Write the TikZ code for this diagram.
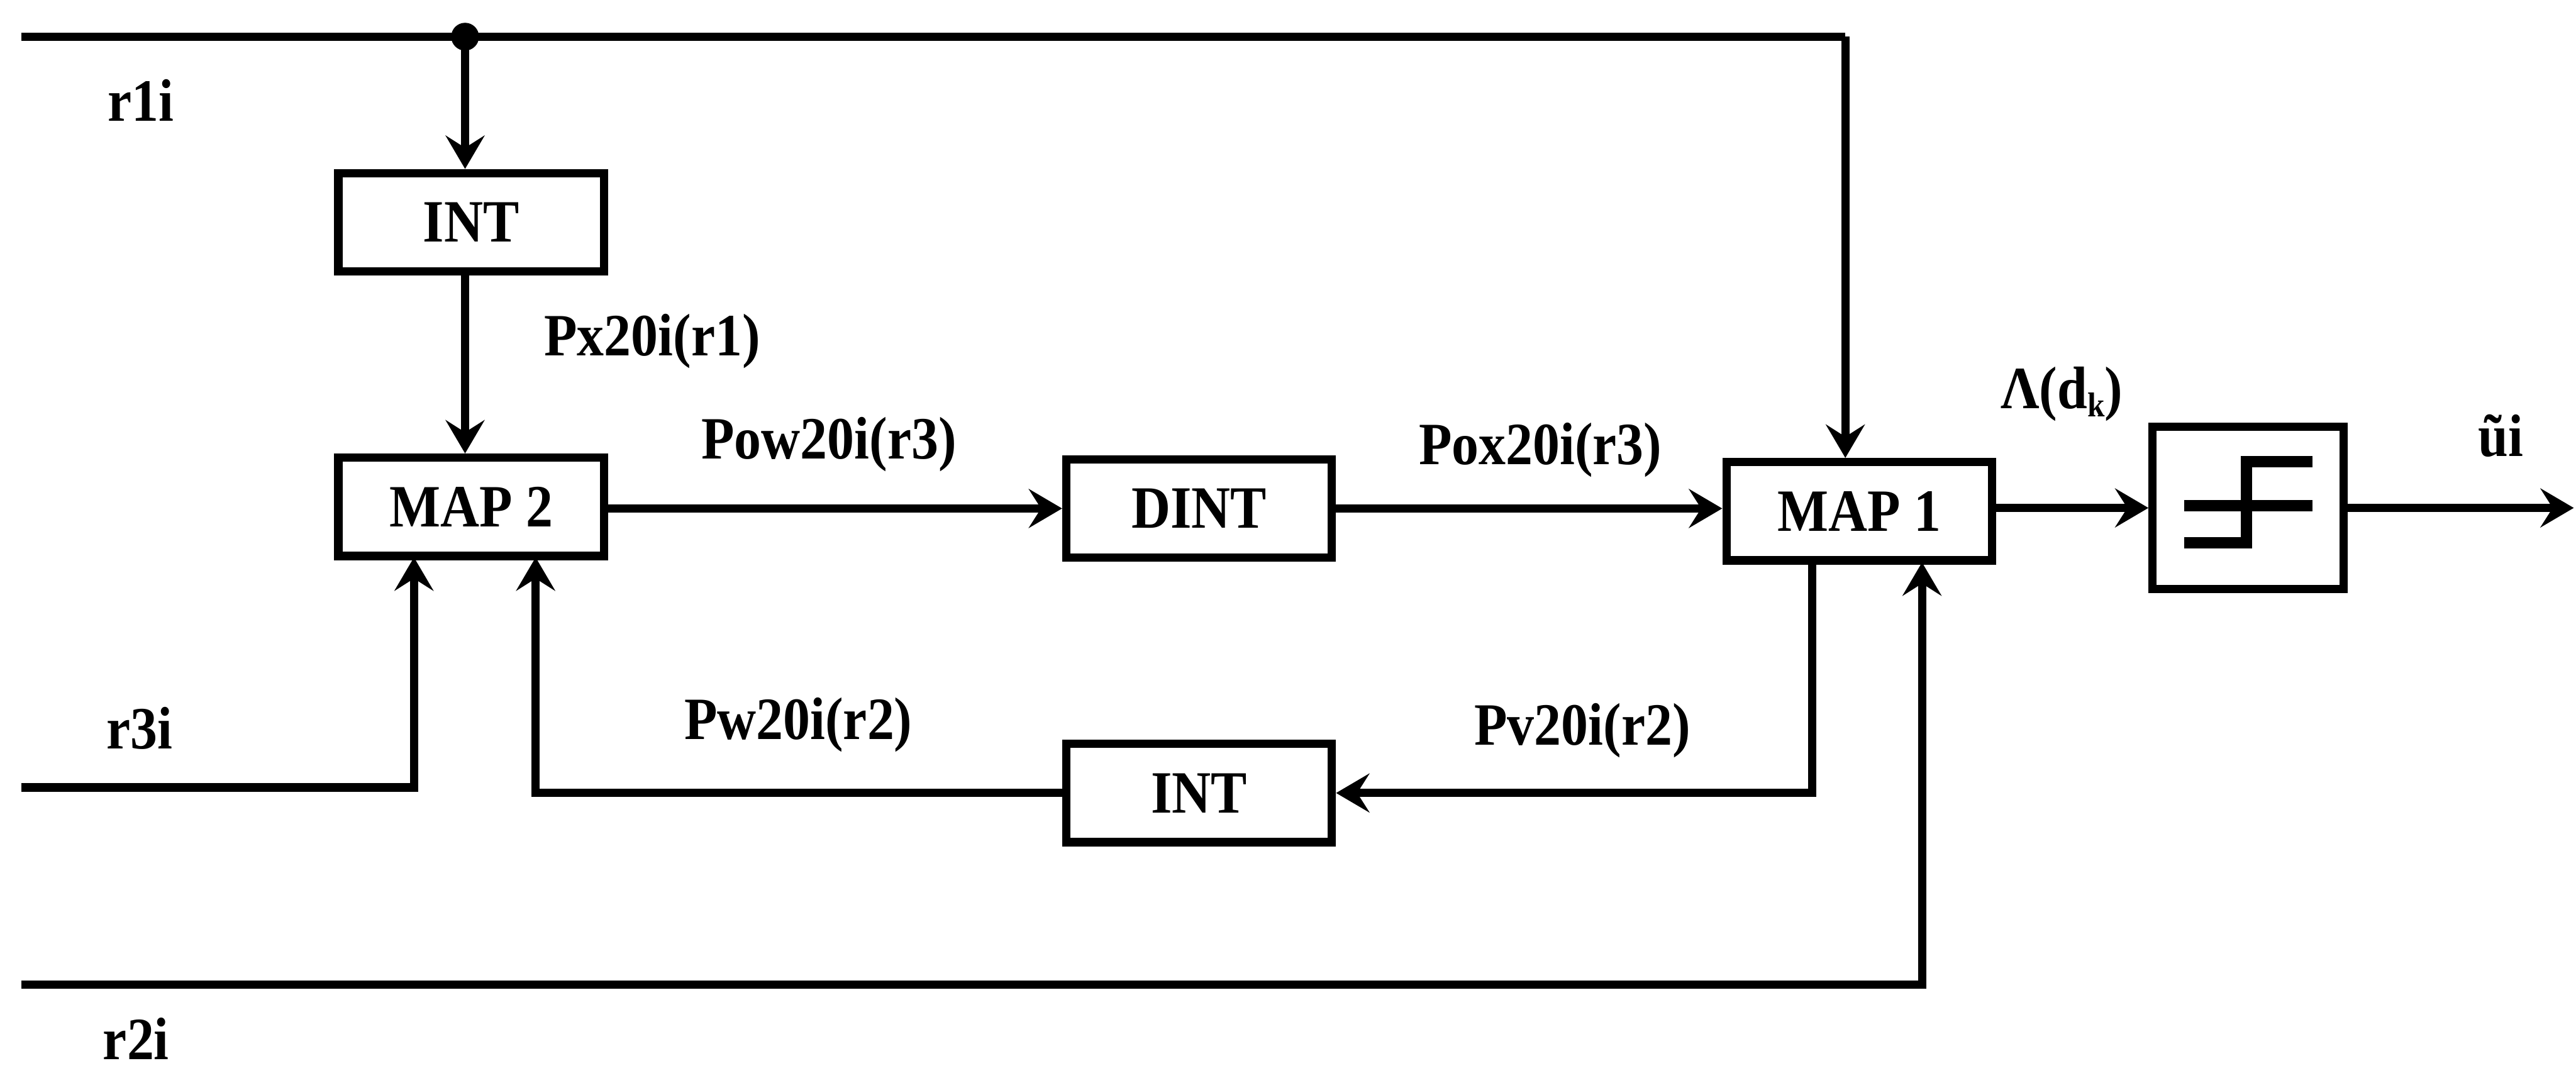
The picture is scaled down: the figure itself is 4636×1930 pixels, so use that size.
\documentclass[tikz,border=0pt]{standalone}
\usepackage{fontspec}
\setmainfont{Liberation Serif}[FakeStretch=0.9]
\usetikzlibrary{arrows.meta}
\begin{document}
\begin{tikzpicture}[x=1pt,y=-1pt,
  line width=15pt,
  sig/.style={draw,line width=15pt,-{Stealth[length=60pt,width=70pt,inset=22pt]}},
  wire/.style={draw,line width=15pt},
  blk/.style={draw,line width=15pt,rectangle,minimum width=478pt,minimum height=177pt,inner sep=0pt,
     font=\fontsize{108}{120}\selectfont\bfseries},
  lab/.style={anchor=base west,inner sep=0pt,font=\fontsize{108}{120}\selectfont\bfseries}]
\useasboundingbox (0,0) rectangle (4636,1930);
% blocks
\node[blk] (INTa) at (848,400) {INT};
\node[blk] (MAPb) at (848,912) {MAP 2};
\node[blk] (DINT) at (2158,915) {DINT};
\node[blk] (INTb) at (2158,1427) {INT};
\node[blk] (MAPa) at (3346,920) {MAP 1};
\node[draw,line width=15pt,rectangle,minimum width=344pt,minimum height=292pt,inner sep=0pt] (TH) at (4046,914) {};
% threshold symbol
\begin{scope}[shift={(TH.center)},line width=20pt]
  \draw (-115,-4) -- (116,-4);
  \draw (116,-83) -- (-3,-83) -- (-3,63) -- (-115,63);
\end{scope}
% coordinates
\coordinate (r1s) at (38,66);
\coordinate (J) at (837,66);
\coordinate (r1e) at (3321,66);
\coordinate (r3s) at (38,1417);
\coordinate (r2s) at (38,1772);
\coordinate (out) at (4632,914);
\fill (J) circle (25pt);
% connectors
\path[wire] (r1s) -- (r1e);
\path[sig] (r1e) -- (r1e |- MAPa.north);
\path[sig] (J) -- (J |- INTa.north);
\path[sig] (J |- INTa.south) -- (J |- MAPb.north);
\path[sig] (MAPb.east |- DINT.west) -- (DINT.west);
\path[sig] (DINT.east) -- (MAPa.west |- DINT.east);
\path[sig] (MAPa.east |- TH.west) -- (TH.west);
\path[sig] (TH.east) -- (out);
\path[sig] (r3s) -| (745,1003);
\path[sig] (INTb.west) -| (964,1003);
\path[sig] (3261,1012) |- (INTb.east);
\path[sig] (r2s) -| (3459,1012);
% labels
\node[lab] (l1) at (187,218) {r1i};
\node[lab] (l3) at (184,1347) {r3i};
\node[lab] (l2) at (178,1906) {r2i};
\node[lab] (px) at (972,640) {Px20i(r1)};
\node[lab] (pow) at (1255,826) {Pow20i(r3)};
\node[lab] (pw) at (1224,1331) {Pw20i(r2)};
\node[lab] (pox) at (2546,836) {Pox20i(r3)};
\node[lab] (pv) at (2646,1341) {Pv20i(r2)};
\node[lab] (lam) at (3593,735) {Λ(d\raisebox{-15pt}{\fontsize{62}{62}\selectfont k})};
\node[lab] (ui) at (4453,821) {ũi};
\end{tikzpicture}
\end{document}
